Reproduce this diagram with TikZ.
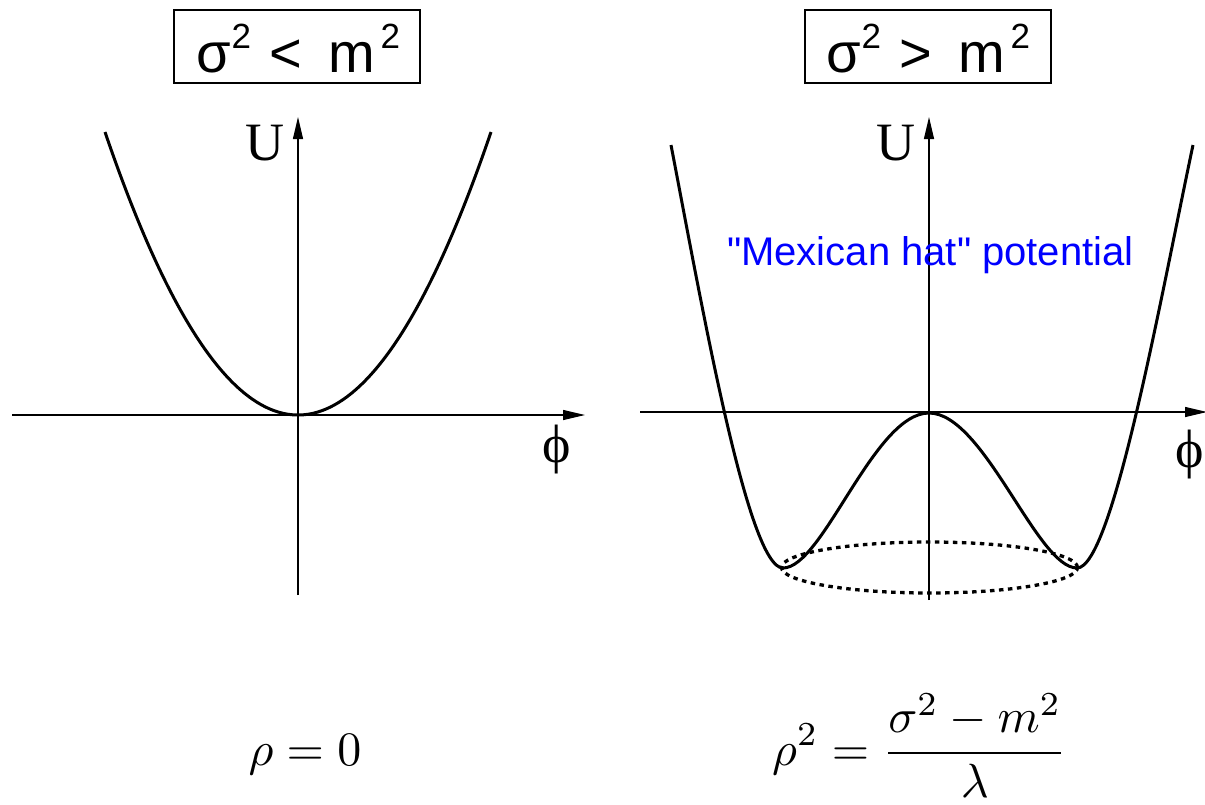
\documentclass[tikz,border=0pt]{standalone}
\usepackage{fontspec}
\usetikzlibrary{arrows.meta}
\newfontfamily\hel{Liberation Sans}
\newfontfamily\tms{Liberation Serif}
\newcommand{\supdigit}{\raisebox{24pt}{\fontsize{35}{40}\selectfont 2}}
\newcommand{\titlerel}[1]{\makebox[35.5pt][l]{σ}\makebox[37.5pt][l]{\supdigit}\makebox[59pt][l]{#1}\makebox[52.5pt][l]{m}\supdigit}
\begin{document}
\begin{tikzpicture}[x=1pt,y=-1pt,
  axis/.style={line width=1.2pt, -{Triangle[length=22pt,width=10pt]}},
  curve/.style={line width=3pt, line join=round},
  titlebox/.style={draw, line width=1.8pt, minimum width=246pt, minimum height=73pt, inner sep=0pt},
  titletext/.style={anchor=base west, inner sep=0pt, font=\hel\fontsize{56}{60}\selectfont},
  axlabel/.style={inner sep=0pt, font=\tms\fontsize{54}{60}\selectfont},
  formula/.style={inner sep=0pt, anchor=base},
  dotline/.style={line width=3.3pt, dash pattern=on 4.5pt off 4.5pt}]
\useasboundingbox (0,0) rectangle (1205,804);
% titles
\node[titlebox] (t1) at (297,46.5) {};
\node[titletext] (tt1) at (196,72) {\titlerel{<}};
\node[titlebox] (t2) at (928,46.5) {};
\node[titletext] (tt2) at (826,72) {\titlerel{>}};
% left axes
\coordinate (l0) at (12,415);
\coordinate (l1) at (585,415);
\coordinate (l2) at (298,595);
\coordinate (l3) at (298,117);
\draw[axis] (l0) -- (l1);
\draw[axis] (l2) -- (l3);
\node[axlabel] (U1) at (265,143) {U};
\node[axlabel] (p1) at (557,450) {ϕ};
\draw[curve] (105,132) .. controls (233.67,509.33) and (362.33,509.33) .. (491,132);
% right axes
\coordinate (r0) at (640,412);
\coordinate (r1) at (1207,412);
\coordinate (r2) at (929,600);
\coordinate (r3) at (929,117);
\draw[axis] (r0) -- (r1);
\draw[axis] (r2) -- (r3);
\node[axlabel] (U2) at (896,143) {U};
\node[axlabel] (p2) at (1190,455) {ϕ};
\draw[dotline] (929.5,567.5) ellipse [x radius=148pt, y radius=25.5pt];
\draw[curve] (671,145) .. controls (702,306) and (748,568) .. (783,568)
  .. controls (823,568) and (874,413) .. (929,413)
  .. controls (984,413) and (1037,568) .. (1077,568)
  .. controls (1112,568) and (1159,306) .. (1193,145);
\node[anchor=base west, inner sep=0pt, text=blue, font=\hel\fontsize{40}{48}\selectfont] (mh) at (727,265) {"Mexican hat" potential};
% formulas
\node[formula] (f1) at (305,765) {\scalebox{4.8}{$\rho = 0$}};
\node[formula, anchor=base west] (f2) at (772,765) {\scalebox{4.8}{$\displaystyle \rho^2 = \frac{\sigma^2 - m^2}{\lambda}$}};
\end{tikzpicture}
\end{document}
